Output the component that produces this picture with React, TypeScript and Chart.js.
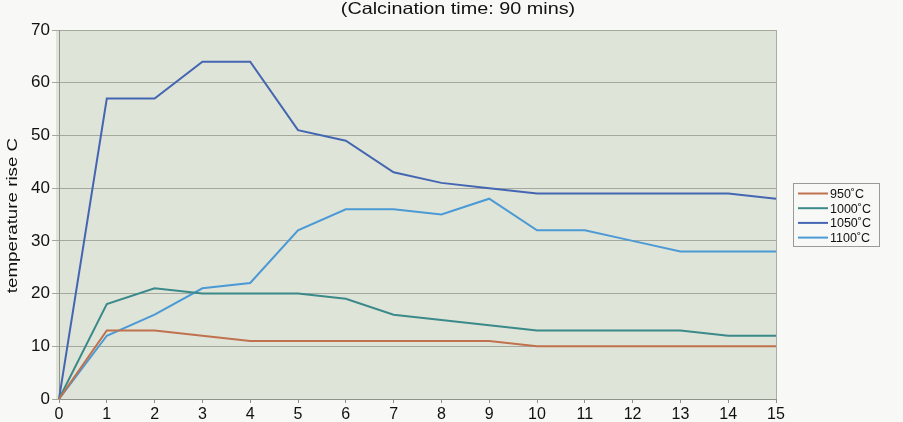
import React, { useEffect, useRef } from "react";
import { Chart, registerables } from "chart.js";

Chart.register(...registerables);

const categories = ["0", "1", "2", "3", "4", "5", "6", "7", "8", "9", "10", "11", "12", "13", "14", "15"];
const s950 = [0, 13, 13, 12, 11, 11, 11, 11, 11, 11, 10, 10, 10, 10, 10, 10];
const s1000 = [0, 18, 21, 20, 20, 20, 19, 16, 15, 14, 13, 13, 13, 13, 12, 12];
const s1050 = [0, 57, 57, 64, 64, 51, 49, 43, 41, 40, 39, 39, 39, 39, 39, 38];
const s1100 = [0, 12, 16, 21, 22, 32, 36, 36, 35, 38, 32, 32, 30, 28, 28, 28];
const seriesLabels = ["950˚C", "1000˚C", "1050˚C", "1100˚C"];
const seriesColors = ["#c0714e", "#3b8a8a", "#4466b2", "#4b9ad6"];
const titleText = "(Calcination time: 90 mins)";
const yTitle = "temperature rise C";

const FONT = "'Liberation Sans', Arial, sans-serif";

const bgPlugin = {
  id: "bgPlugin",
  beforeDraw(chart: any) {
    const { ctx, chartArea, width, height } = chart;
    ctx.save();
    ctx.fillStyle = "#f8f9f6";
    ctx.fillRect(0, 0, width, height);
    ctx.fillStyle = "#dfe4d8";
    ctx.fillRect(chartArea.left - 3, chartArea.top, chartArea.right - chartArea.left + 3, chartArea.bottom - chartArea.top);
    ctx.strokeStyle = "#a9ada3";
    ctx.lineWidth = 1;
    ctx.beginPath();
    ctx.moveTo(chartArea.right + 0.5, chartArea.top);
    ctx.lineTo(chartArea.right + 0.5, chartArea.bottom);
    ctx.stroke();
    ctx.restore();
  },
  afterDraw(chart: any) {
    const { ctx, chartArea } = chart;
    ctx.save();
    // title
    ctx.fillStyle = "#111";
    ctx.font = `16.5px ${FONT}`;
    ctx.textAlign = "center";
    ctx.textBaseline = "middle";
    ctx.save();
    ctx.translate(458, 9);
    ctx.scale(1.2, 1);
    ctx.fillText(titleText, 0, 0);
    ctx.restore();
    // y-axis title
    ctx.save();
    ctx.font = `15px ${FONT}`;
    ctx.translate(13, (chartArea.top + chartArea.bottom) / 2 + 1);
    ctx.rotate(-Math.PI / 2);
    ctx.scale(1.25, 1);
    ctx.fillText(yTitle, 0, 0);
    ctx.restore();
    // legend
    const bx = 793, by = 183, bw = 86, bh = 63;
    ctx.fillStyle = "#f8f9f6";
    ctx.fillRect(bx, by, bw, bh);
    ctx.strokeStyle = "#9a9a9a";
    ctx.lineWidth = 1;
    ctx.strokeRect(bx + 0.5, by + 0.5, bw, bh);
    ctx.font = `12.5px ${FONT}`;
    ctx.textAlign = "left";
    chart.data.datasets.forEach((ds: any, i: number) => {
      const y = by + 10.5 + i * 14.7;
      ctx.strokeStyle = ds.borderColor;
      ctx.lineWidth = 2;
      ctx.beginPath();
      ctx.moveTo(bx + 5, y);
      ctx.lineTo(bx + 35, y);
      ctx.stroke();
      ctx.fillStyle = "#111";
      ctx.fillText(ds.label, bx + 37, y + 1);
    });
    ctx.restore();
  },
};

export default function App() {
  const ref = useRef<HTMLCanvasElement>(null);
  useEffect(() => {
    document.body.style.margin = "0";
    const series = [s950, s1000, s1050, s1100];
    const chart = new Chart(ref.current!, {
      type: "line",
      data: {
        labels: categories,
        datasets: series.map((d, i) => ({
          label: seriesLabels[i],
          data: d,
          borderColor: seriesColors[i],
          backgroundColor: seriesColors[i],
          borderWidth: 2,
          pointRadius: 0,
          tension: 0,
        })),
      },
      options: {
        animation: false,
        responsive: false,
        maintainAspectRatio: false,
        layout: { padding: { top: 30, right: 127, bottom: 0, left: 0 } },
        plugins: { legend: { display: false }, title: { display: false }, tooltip: { enabled: false } },
        scales: {
          x: {
            offset: false,
            grid: { display: true, drawOnChartArea: false, drawTicks: true, tickLength: 4, color: "#8e928a" },
            border: { display: true, color: "#8e928a", width: 1 },
            ticks: { color: "#111", font: { family: FONT, size: 16 }, padding: 2, maxRotation: 0 },
            afterFit: (s: any) => { s.height = 23; },
          },
          y: {
            min: 0,
            max: 70,
            grid: { color: "#a4a89e", lineWidth: 1, tickLength: 7, drawTicks: true },
            border: { display: true, color: "#8e928a", width: 1 },
            ticks: { stepSize: 10, color: "#111", font: { family: FONT, size: 17 }, padding: 2 },
            title: { display: false },
            afterFit: (s: any) => { s.width = 59; },
          },
        },
      },
      plugins: [bgPlugin],
    });
    return () => chart.destroy();
  }, []);
  return (
    <div style={{ width: 903, height: 422 }}>
      <canvas ref={ref} width={903} height={422} style={{ display: "block" }} />
    </div>
  );
}
